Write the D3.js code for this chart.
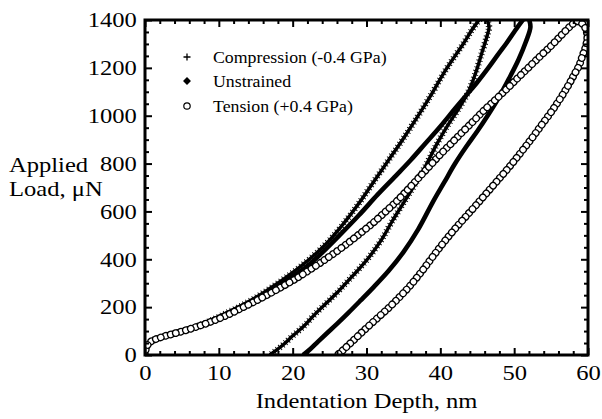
<!DOCTYPE html>
<html>
<head>
<meta charset="utf-8">
<script src="https://cdn.jsdelivr.net/npm/d3@7"></script>
<style>
  body { margin: 0; background: #fff; }
</style>
</head>
<body>
<svg id="fig" width="602" height="419"></svg>
<script>
// tick values
const depthTicks = [0, 10, 20, 30, 40, 50, 60];
const loadTicks = [0, 200, 400, 600, 800, 1000, 1200, 1400];

// legend entries
const seriesNames = ["Compression (-0.4 GPa)", "Unstrained", "Tension (+0.4 GPa)"];

// [depth nm, load uN]
const compressionLoad = [[0,0],[0.2,30],[0.7,55],[1.5,68],[3,82],[5,100],[7,120],[9,145],[11,175],[13,205],
  [15,240],[17,280],[19,322],[21,368],[23,420],[25,480],[27,553],[29,635],[31,725],[33,815],[35,905],
  [37,1000],[39,1100],[40.5,1180],[42,1250],[43.2,1305],[44.2,1355],[45,1390],[45.4,1405]];
const compressionUnload = [[46.3,1405],[46.6,1370],[46.3,1330],[45.6,1260],[44.8,1180],[43.8,1100],[42.5,1030],
  [41,960],[39.5,880],[38,790],[36.5,710],[35,635],[33.5,560],[32,480],[30.5,415],[29,360],[27.5,310],
  [26,260],[24.5,215],[23,170],[21.5,120],[20,80],[18.8,45],[17.8,20],[16.9,0]];
const unstrainedLoad = [[0,0],[0.2,30],[0.6,52],[1.5,68],[3,85],[5,103],[7.5,127],[10,158],[13,203],[16,252],
  [19,308],[22,372],[24,428],[26.5,505],[29,585],[31.5,670],[34,750],[36,815],[38,885],[40,955],
  [42,1030],[43.5,1085],[45,1140],[46.5,1200],[47.8,1255],[49,1305],[50,1350],[50.8,1385],[51.3,1405]];
const unstrainedUnload = [[52,1405],[52.2,1370],[51.6,1310],[50.6,1235],[49.3,1155],[47.9,1075],[46.4,1000],
  [45,935],[43.5,870],[42,800],[40.5,720],[39,640],[37,525],[35,430],[33,352],[31,285],
  [29.2,228],[27.5,175],[26,130],[24.6,90],[23.4,55],[22.4,25],[21.4,0]];
const tensionLoad = [[0,0],[0.05,15],[0.2,32],[0.5,48],[1,60],[1.8,70],[2.8,80],[4,90],[5.5,103],[7,118],
  [8.5,134],[10,152],[11.5,172],[13,195],[14.5,218],[16,242],[17.5,267],[19,293],[20.5,320],[22,350],
  [23.5,380],[25,412],[26.5,445],[28,480],[29.5,517],[31,555],[32.5,597],[34,640],[35.5,688],[37,738],
  [38.5,788],[40,838],[41.5,885],[43,932],[44.5,978],[46,1025],[47.5,1068],[49,1112],[50.5,1158],
  [52,1203],[53.5,1248],[55,1292],[56.2,1330],[57.2,1362],[58,1385],[58.6,1395]];
const tensionUnload = [[58.6,1395],[59.2,1385],[59.7,1362],[59.9,1330],[59.7,1290],[59.3,1255],[58.8,1210],
  [58.1,1170],[57.3,1125],[56.2,1070],[55,1015],[53.8,965],[52.5,910],[51,850],[49.5,792],[48,738],
  [46.5,685],[45,632],[43.5,580],[42,528],[40.5,472],[39,412],[37.5,350],[36,293],[34.5,243],[33,197],
  [31.5,155],[30,113],[28.7,75],[27.6,43],[26.7,17],[26,0]];

const serif = 'Liberation Serif';
const svg = d3.select('#fig');
const plotLeft = 145, plotRight = 588, plotTop = 20, plotBottom = 355;
const stretch = 'scale(1.17,1)';

const x = d3.scaleLinear().domain([0, 60]).range([plotLeft, plotRight]);
const y = d3.scaleLinear().domain([0, 1400]).range([plotBottom, plotTop]);

svg.append('clipPath').attr('id', 'plotclip')
  .append('rect')
    .attr('x', plotLeft).attr('y', plotTop)
    .attr('width', plotRight - plotLeft).attr('height', plotBottom - plotTop);

const line = d3.line()
  .x(function (d) { return x(d[0]); })
  .y(function (d) { return y(d[1]); })
  .curve(d3.curveCatmullRom);

const plot = svg.append('g').attr('clip-path', 'url(#plotclip)');

// unstrained: diamonds packed into a heavy line
[unstrainedLoad, unstrainedUnload].forEach(function (s) {
  plot.append('path').attr('d', line(s))
    .attr('fill', 'none').attr('stroke', '#000')
    .attr('stroke-width', 4.6).attr('stroke-linejoin', 'round');
});

// compression: crosses packed into a fuzzy line
[compressionLoad, compressionUnload].forEach(function (s) {
  plot.append('path').attr('d', line(s))
    .attr('fill', 'none').attr('stroke', '#000')
    .attr('stroke-width', 3.4).attr('stroke-linejoin', 'round');
  plot.append('path').attr('d', line(s))
    .attr('fill', 'none').attr('stroke', '#000')
    .attr('stroke-width', 6.5).attr('stroke-dasharray', '0.9 2.7');
});

// tension: open circles along the curve, drawn in passes so they overlap in order
const step = 5.2, passes = 3;
[tensionLoad, tensionUnload].forEach(function (s) {
  for (let i = 0; i < passes; i++) {
    plot.append('path').attr('d', line(s))
      .attr('fill', 'none').attr('stroke', '#000')
      .attr('stroke-width', 7.8).attr('stroke-linecap', 'round')
      .attr('stroke-dasharray', '0.01 ' + (step * passes - 0.01))
      .attr('stroke-dashoffset', -i * step);
    plot.append('path').attr('d', line(s))
      .attr('fill', 'none').attr('stroke', '#fff')
      .attr('stroke-width', 5.2).attr('stroke-linecap', 'round')
      .attr('stroke-dasharray', '0.01 ' + (step * passes - 0.01))
      .attr('stroke-dashoffset', -i * step);
  }
});

// axes: ticks point inward on all four sides
function styleAxis(g) {
  g.select('.domain').remove();
  g.selectAll('.tick line').attr('stroke', '#000').attr('stroke-width', 2);
}

const minorDepth = d3.range(0, 61, 2).filter(function (v) { return v % 10 !== 0; });
const minorLoad = d3.range(0, 1401, 50).filter(function (v) { return v % 200 !== 0; });

const gx = svg.append('g').attr('transform', 'translate(0,' + plotBottom + ')')
  .call(d3.axisBottom(x).tickValues(depthTicks).tickFormat(d3.format('d')).tickSize(-7).tickPadding(10))
  .call(styleAxis);
gx.selectAll('text').style('font-family', serif).style('font-size', '21px')
  .attr('fill', '#000').attr('transform', stretch);

svg.append('g').attr('transform', 'translate(0,' + plotBottom + ')')
  .call(d3.axisBottom(x).tickValues(minorDepth).tickSize(-4).tickFormat(''))
  .call(styleAxis);
svg.append('g').attr('transform', 'translate(0,' + plotTop + ')')
  .call(d3.axisTop(x).tickValues(depthTicks).tickSize(-7).tickFormat(''))
  .call(styleAxis);
svg.append('g').attr('transform', 'translate(0,' + plotTop + ')')
  .call(d3.axisTop(x).tickValues(minorDepth).tickSize(-4).tickFormat(''))
  .call(styleAxis);

const gy = svg.append('g').attr('transform', 'translate(' + plotLeft + ',0)')
  .call(d3.axisLeft(y).tickValues(loadTicks).tickFormat(d3.format('d')).tickSize(-7).tickPadding(7))
  .call(styleAxis);
gy.selectAll('text').style('font-family', serif).style('font-size', '21px')
  .attr('fill', '#000').attr('transform', stretch);

svg.append('g').attr('transform', 'translate(' + plotLeft + ',0)')
  .call(d3.axisLeft(y).tickValues(minorLoad).tickSize(-4).tickFormat(''))
  .call(styleAxis);
svg.append('g').attr('transform', 'translate(' + plotRight + ',0)')
  .call(d3.axisRight(y).tickValues(loadTicks).tickSize(-7).tickFormat(''))
  .call(styleAxis);
svg.append('g').attr('transform', 'translate(' + plotRight + ',0)')
  .call(d3.axisRight(y).tickValues(minorLoad).tickSize(-4).tickFormat(''))
  .call(styleAxis);

// frame
svg.append('rect')
  .attr('x', plotLeft).attr('y', plotTop)
  .attr('width', plotRight - plotLeft).attr('height', plotBottom - plotTop)
  .attr('fill', 'none').attr('stroke', '#000').attr('stroke-width', 3);

// axis titles
svg.append('text')
  .attr('transform', 'translate(' + ((plotLeft + plotRight) / 2) + ',408) ' + stretch)
  .attr('text-anchor', 'middle')
  .style('font-family', serif).style('font-size', '21px')
  .text('Indentation Depth, nm');
svg.append('text')
  .attr('transform', 'translate(9,172) ' + stretch)
  .style('font-family', serif).style('font-size', '21px')
  .text('Applied');
svg.append('text')
  .attr('transform', 'translate(9,196) ' + stretch)
  .style('font-family', serif).style('font-size', '21px')
  .text('Load, \u03bcN');

// legend
const legend = svg.append('g');
const rows = [57, 81, 106];
legend.append('path')
  .attr('d', 'M183.5,' + rows[0] + 'h7M187,' + (rows[0] - 3.5) + 'v7')
  .attr('stroke', '#000').attr('stroke-width', 1.3);
legend.append('path')
  .attr('d', d3.symbol(d3.symbolDiamond2, 40)())
  .attr('transform', 'translate(187,' + rows[1] + ')')
  .attr('fill', '#000');
legend.append('circle')
  .attr('cx', 187).attr('cy', rows[2]).attr('r', 3.2)
  .attr('fill', '#fff').attr('stroke', '#000').attr('stroke-width', 1.2);
legend.selectAll('text.lab')
  .data(seriesNames)
  .join('text')
  .attr('class', 'lab')
  .attr('transform', function (d, i) { return 'translate(213,' + (rows[i] + 5.5) + ') scale(1.08,1)'; })
  .style('font-family', serif).style('font-size', '16.5px')
  .text(function (d) { return d; });
</script>
</body>
</html>
